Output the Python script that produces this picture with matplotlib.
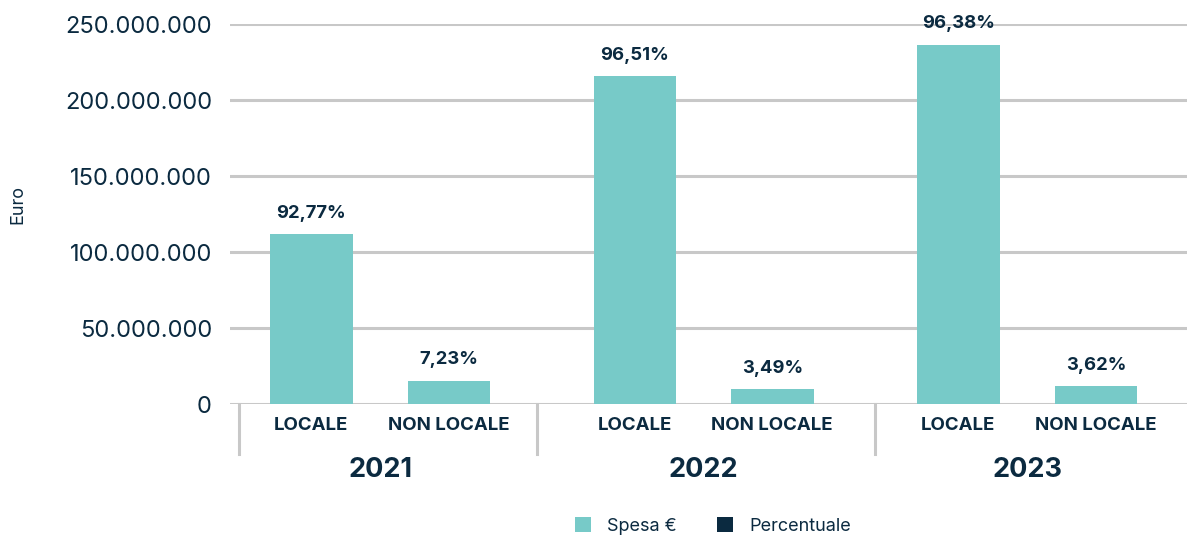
import matplotlib
matplotlib.use("Agg")
import matplotlib.pyplot as plt
import matplotlib.transforms as mtransforms
from matplotlib.patches import Patch
from matplotlib.ticker import FuncFormatter

plt.rcParams.update({
    'font.family': ['Inter', 'DejaVu Sans'],
    'text.color': '#0b2a40',
})

NAVY = '#0b2a40'
TEAL = '#77cac8'
GRID = '#c8c8c8'

years = ['2021', '2022', '2023']
categories = ['LOCALE', 'NON LOCALE']
# spesa in euro, per anno: [locale, non locale]
spesa = [
    [112.0e6, 15.5e6],
    [216.0e6, 9.8e6],
    [236.5e6, 11.8e6],
]
percentuale = [
    ['92,77%', '7,23%'],
    ['96,51%', '3,49%'],
    ['96,38%', '3,62%'],
]
y_ticks = [0, 50e6, 100e6, 150e6, 200e6, 250e6]

GROUP_STEP = 2.353
BAR_STEP = 1.0
BAR_W = 0.60


def fmt_euro(v, pos):
    return '{:,.0f}'.format(v).replace(',', '.')


def main():
    fig = plt.figure(figsize=(11.87, 5.37), dpi=100)
    ax = fig.add_axes([230 / 1187, 1 - 404.3 / 537, 1 - 230 / 1187, 380 / 537])

    xpos, vals, labels = [], [], []
    for g, year in enumerate(years):
        for j, cat in enumerate(categories):
            xpos.append(g * GROUP_STEP + j * BAR_STEP)
            vals.append(spesa[g][j])
            labels.append(percentuale[g][j])

    bars = ax.bar(xpos, vals, width=BAR_W, color=TEAL, zorder=2)
    for b, lab in zip(bars, labels):
        ax.annotate(lab, (b.get_x() + b.get_width() / 2, b.get_height()),
                    xytext=(0, 15), textcoords='offset points',
                    ha='center', va='center', fontsize=13.3,
                    fontweight='bold', color=NAVY, annotation_clip=False)

    ax.set_xlim(-0.591, 6.369)
    ax.set_ylim(0, 250e6)
    ax.set_yticks(y_ticks)
    ax.yaxis.set_major_formatter(FuncFormatter(fmt_euro))
    ax.tick_params(axis='y', length=0, pad=13, labelsize=17, labelcolor=NAVY)
    ax.set_xticks([])
    ax.yaxis.grid(True, color=GRID, linewidth=2.2)
    ax.set_axisbelow(True)
    for s in ax.spines.values():
        s.set_visible(False)

    trans = mtransforms.blended_transform_factory(ax.transData, ax.transAxes)
    # category and year labels under the axis
    for x, (g, j) in zip(xpos, [(g, j) for g in range(3) for j in range(2)]):
        ax.text(x, -0.0545, categories[j], transform=trans, ha='center',
                va='center', fontsize=13.4, fontweight='bold', color=NAVY)
    for g, year in enumerate(years):
        xc = g * GROUP_STEP + BAR_STEP / 2
        ax.text(xc, -0.173, year, transform=trans, ha='center', va='center',
                fontsize=19.5, fontweight='bold', color=NAVY)

    # group separators
    for xs in [-0.524, 1.641, 4.098]:
        ax.plot([xs, xs], [0, -0.131], transform=trans, color=GRID,
                linewidth=2.2, clip_on=False)

    fig.text(18 / 1187, 1 - 205 / 537, 'Euro', rotation=90, ha='center',
             va='center', fontsize=13, color=NAVY)

    handles = [Patch(facecolor=TEAL, label='Spesa €'),
               Patch(facecolor=NAVY, label='Percentuale')]
    fig.legend(handles=handles, loc='center', bbox_to_anchor=(0.6007, 0.02),
               ncol=2, frameon=False, fontsize=13, handlelength=0.9,
               handleheight=0.9, handletextpad=0.9, columnspacing=2.2,
               labelcolor=NAVY)

    fig.savefig('out.png', dpi=100)


if __name__ == '__main__':
    main()
